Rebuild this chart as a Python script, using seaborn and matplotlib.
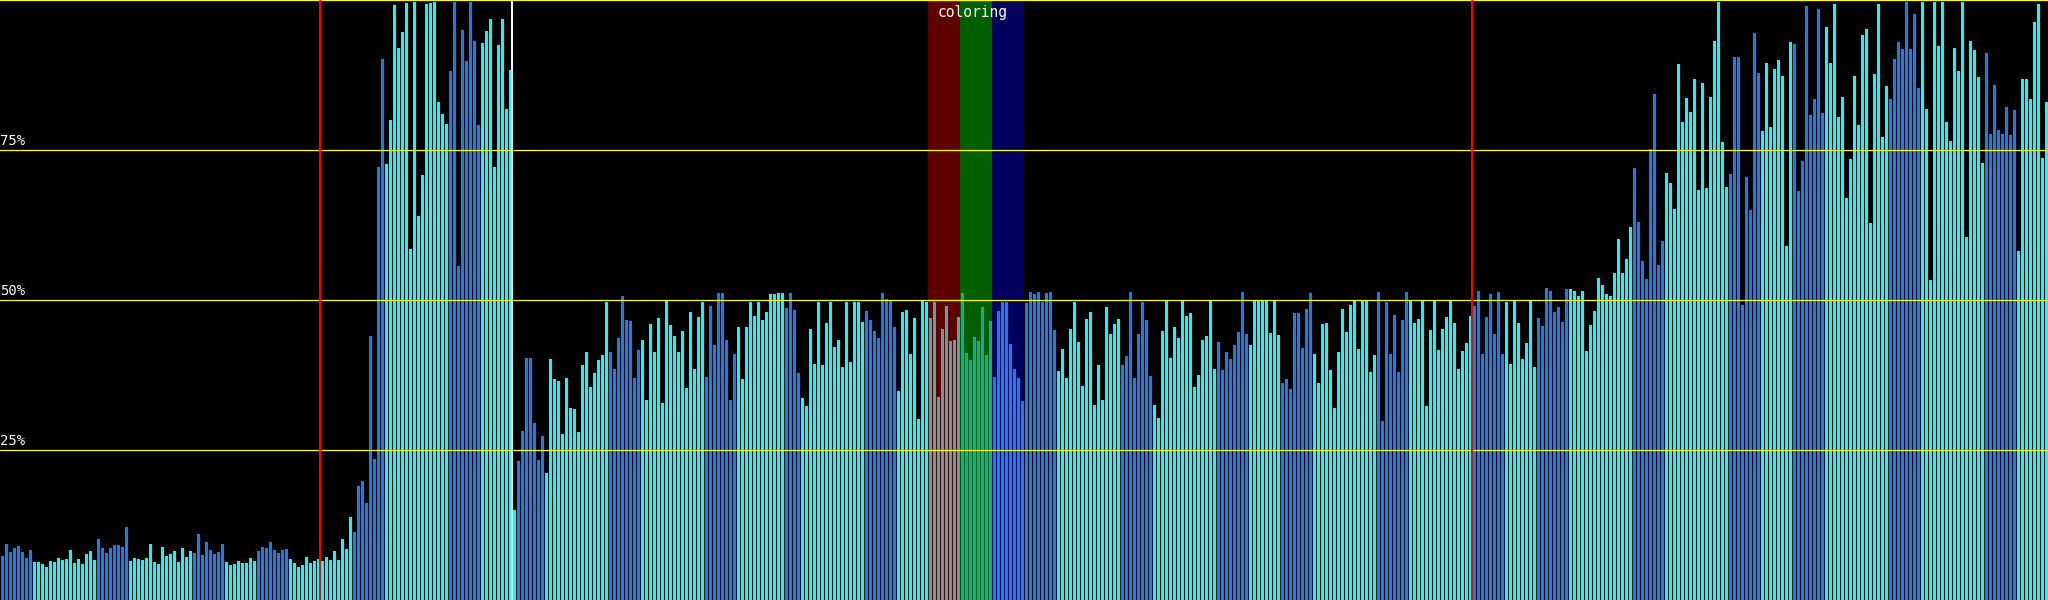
import matplotlib
matplotlib.use('Agg')
import matplotlib.pyplot as plt
import matplotlib.transforms as mtransforms
import seaborn as sns
import numpy as np
import pandas as pd

# CPU load per sample (%), 512 samples
cpu_pct = [
    7.3, 9.3, 8.0, 8.7, 9.0, 8.0, 7.0, 8.3,
    6.3, 6.3, 6.0, 5.5, 6.5, 6.3, 7.0, 6.7,
    6.8, 8.3, 6.2, 6.8, 6.0, 7.7, 8.2, 6.7,
    10.2, 8.7, 7.8, 8.7, 9.2, 9.2, 8.8, 12.2,
    6.5, 7.0, 6.8, 6.7, 7.0, 9.3, 6.3, 6.0,
    8.8, 7.3, 7.7, 8.2, 6.3, 8.7, 7.2, 8.2,
    7.8, 11.0, 7.5, 9.7, 8.3, 7.7, 8.0, 9.3,
    6.3, 5.8, 6.0, 6.5, 6.2, 6.2, 7.0, 6.5,
    8.2, 8.8, 8.7, 9.7, 8.3, 7.8, 8.3, 8.5,
    6.8, 6.2, 5.5, 5.8, 7.2, 6.2, 6.5, 6.8,
    6.5, 7.1, 6.7, 8.2, 6.7, 10.1, 8.5, 13.8,
    11.4, 19.0, 19.8, 16.1, 44.0, 23.5, 72.2, 90.2,
    72.6, 80.0, 99.2, 92.0, 94.6, 99.5, 58.5, 99.7,
    64.0, 70.9, 99.4, 99.5, 99.7, 83.0, 81.0, 79.3,
    88.1, 99.7, 55.7, 95.0, 89.9, 99.7, 93.2, 79.1,
    92.9, 94.8, 96.8, 72.2, 92.5, 96.8, 81.8, 88.3,
    15.0, 23.2, 28.2, 40.3, 40.3, 29.5, 23.3, 27.4,
    21.2, 40.2, 36.8, 36.5, 27.7, 37.0, 32.0, 31.8,
    28.0, 39.2, 41.3, 35.5, 37.8, 40.0, 40.8, 49.7,
    41.3, 38.5, 43.7, 50.7, 46.7, 46.5, 37.0, 41.7,
    43.3, 33.3, 46.0, 41.3, 47.0, 32.8, 49.8, 45.8,
    44.0, 41.3, 44.8, 35.3, 48.0, 38.5, 47.2, 49.7,
    37.2, 49.0, 42.5, 51.2, 51.2, 43.3, 33.3, 41.0,
    45.5, 36.8, 45.5, 49.7, 47.3, 49.7, 46.7, 48.0,
    51.0, 51.0, 51.2, 51.2, 48.7, 51.2, 48.3, 37.8,
    33.7, 32.3, 45.2, 39.3, 49.7, 39.2, 46.2, 49.7,
    42.2, 43.3, 38.8, 49.7, 39.7, 49.7, 49.7, 46.3,
    48.2, 46.7, 44.8, 43.7, 51.2, 50.2, 49.8, 45.5,
    34.8, 48.0, 48.3, 41.0, 47.0, 30.2, 49.8, 49.7,
    47.0, 49.7, 33.8, 45.2, 49.0, 43.2, 43.3, 47.2,
    51.2, 41.2, 40.0, 43.8, 43.2, 48.8, 40.8, 46.5,
    37.2, 48.2, 49.7, 49.7, 42.7, 38.5, 37.0, 33.2,
    49.5, 51.3, 51.0, 51.3, 49.7, 51.2, 51.3, 45.0,
    38.2, 41.8, 37.0, 45.2, 49.7, 43.0, 35.7, 46.8,
    48.0, 32.5, 39.2, 33.3, 48.8, 44.3, 46.0, 46.8,
    39.2, 40.7, 51.3, 37.0, 44.3, 49.7, 46.7, 37.3,
    32.5, 30.3, 44.8, 49.8, 40.3, 45.5, 43.7, 49.8,
    47.3, 47.8, 35.5, 37.5, 43.3, 44.0, 49.8, 38.5,
    43.0, 38.3, 41.3, 40.2, 42.5, 44.7, 51.3, 44.3,
    42.5, 49.8, 49.8, 49.8, 49.8, 44.5, 49.8, 44.2,
    36.2, 36.8, 35.2, 47.8, 47.8, 42.0, 48.5, 51.2,
    41.0, 36.2, 46.0, 46.2, 38.3, 32.0, 41.3, 48.5,
    44.7, 49.2, 49.8, 41.8, 49.8, 49.8, 38.0, 40.8,
    51.3, 29.8, 49.7, 41.0, 47.5, 38.0, 46.7, 51.3,
    49.8, 46.2, 46.8, 49.8, 32.3, 45.0, 49.8, 41.7,
    45.2, 47.2, 49.8, 46.2, 38.5, 41.5, 42.8, 47.3,
    49.0, 51.5, 41.0, 47.2, 51.0, 44.3, 51.3, 41.0,
    49.7, 39.3, 49.8, 46.2, 40.2, 42.8, 49.8, 38.8,
    47.0, 45.7, 52.0, 51.5, 48.0, 48.8, 46.3, 51.8,
    51.8, 51.5, 50.6, 51.5, 41.5, 45.9, 48.1, 53.6,
    52.5, 51.0, 50.6, 54.5, 60.1, 54.5, 56.8, 62.2,
    72.0, 63.0, 56.5, 53.5, 75.2, 84.3, 55.8, 59.8,
    71.2, 69.5, 65.2, 89.3, 79.7, 83.7, 81.3, 86.9,
    68.3, 86.2, 68.7, 83.8, 93.2, 99.7, 76.3, 68.8,
    71.0, 90.5, 90.5, 49.2, 70.5, 65.0, 94.5, 87.8,
    78.2, 89.5, 78.8, 88.5, 90.0, 87.3, 59.0, 93.0,
    92.7, 68.2, 73.2, 99.0, 80.8, 83.5, 98.5, 81.2,
    95.5, 89.5, 99.3, 80.5, 83.8, 67.0, 73.5, 87.3,
    79.2, 94.2, 95.2, 62.8, 87.7, 99.3, 77.2, 85.7,
    83.5, 90.2, 93.0, 91.8, 99.7, 91.8, 97.7, 85.3,
    99.7, 81.8, 53.3, 99.7, 92.3, 99.7, 79.7, 76.5,
    92.0, 88.2, 99.7, 60.5, 93.2, 91.7, 87.2, 72.8,
    91.2, 77.7, 85.8, 78.3, 77.7, 82.2, 77.5, 81.7,
    58.2, 86.8, 86.8, 83.5, 96.3, 99.3, 73.7, 83.0,
]

# alternating sample groups (group, number of bars)
color_runs = [
    ('A', 8), ('B', 16), ('A', 8), ('B', 16), ('A', 8), ('B', 8), ('A', 8),
    ('B', 16), ('A', 8), ('B', 16), ('A', 8), ('B', 9), ('A', 7), ('B', 16),
    ('A', 8), ('B', 16), ('A', 8), ('B', 12), ('A', 4), ('B', 16), ('A', 8),
    ('B', 16), ('A', 24), ('B', 16), ('A', 8), ('B', 16), ('A', 8), ('B', 8),
    ('A', 8), ('B', 16), ('A', 8), ('B', 16), ('A', 8), ('B', 8), ('A', 8),
    ('B', 16), ('A', 8), ('B', 16), ('A', 8), ('B', 8), ('A', 8), ('B', 16),
    ('A', 8), ('B', 16), ('A', 8), ('B', 8),
]

red_marks = [80, 368]       # bar index where a red marker sits
white_marks = [128]
coloring_spans = [232, 240, 248, 256]   # red / green / blue phases
coloring_colors = ['#ff0000', '#00ff00', '#0000ff']
coloring_front = [True, True, False]
grid_pct = [25, 50, 75, 100]
label_pct = [25, 50, 75]

BLUE = '#0a84f0'
CYAN = '#00ffff'

df = pd.DataFrame({
    'bar': np.arange(len(cpu_pct)),
    'pct': cpu_pct,
    'group': np.repeat([g for g, _ in color_runs], [n for _, n in color_runs]),
})

sns.set_style('dark', {'axes.facecolor': 'black', 'figure.facecolor': 'black'})

fig = plt.figure(figsize=(20.48, 6), dpi=100)
ax = fig.add_axes([0, 0, 1, 1])

sns.barplot(data=df, x='bar', y='pct', hue='group',
            palette={'A': BLUE, 'B': CYAN}, saturation=1, native_scale=True,
            width=0.75, dodge=False, legend=False, errorbar=None,
            linewidth=0, antialiased=False, ax=ax)

off = 0.625  # gap between bars sits this far left of a bar centre
for i in range(len(coloring_colors)):
    ax.axvspan(coloring_spans[i] - off, coloring_spans[i + 1] - off,
               color=coloring_colors[i], alpha=0.375, lw=0,
               zorder=3 if coloring_front[i] else 0.5)
ax.text((coloring_spans[0] + coloring_spans[-1]) / 2 - off - 0.8, 99.2, 'coloring',
        color='white', ha='center', va='top', fontsize=10.5,
        family='DejaVu Sans Mono', zorder=6)

for y in grid_pct:
    ax.axhline(y, color='#ffff00', lw=0.9, zorder=4, clip_on=False)
for m in red_marks:
    ax.axvline(m - off, color='#ff0000', lw=1.4, zorder=5)
for m in white_marks:
    ax.axvline(m - off, color='white', lw=1.4, zorder=5)

trans = mtransforms.blended_transform_factory(ax.transAxes, ax.transData)
for y in label_pct:
    ax.text(0.0, y + 0.3, f'{y}%', transform=trans, color='white',
            ha='left', va='bottom', fontsize=10, family='DejaVu Sans Mono',
            zorder=6)

ax.set_xlim(-off, len(cpu_pct) - off)
ax.set_ylim(0, 100)
ax.set_xlabel('')
ax.set_ylabel('')
ax.set_xticks([])
ax.set_yticks([])
for s in ax.spines.values():
    s.set_visible(False)
ax.grid(False)

fig.savefig('out.png', dpi=100, facecolor='black')
